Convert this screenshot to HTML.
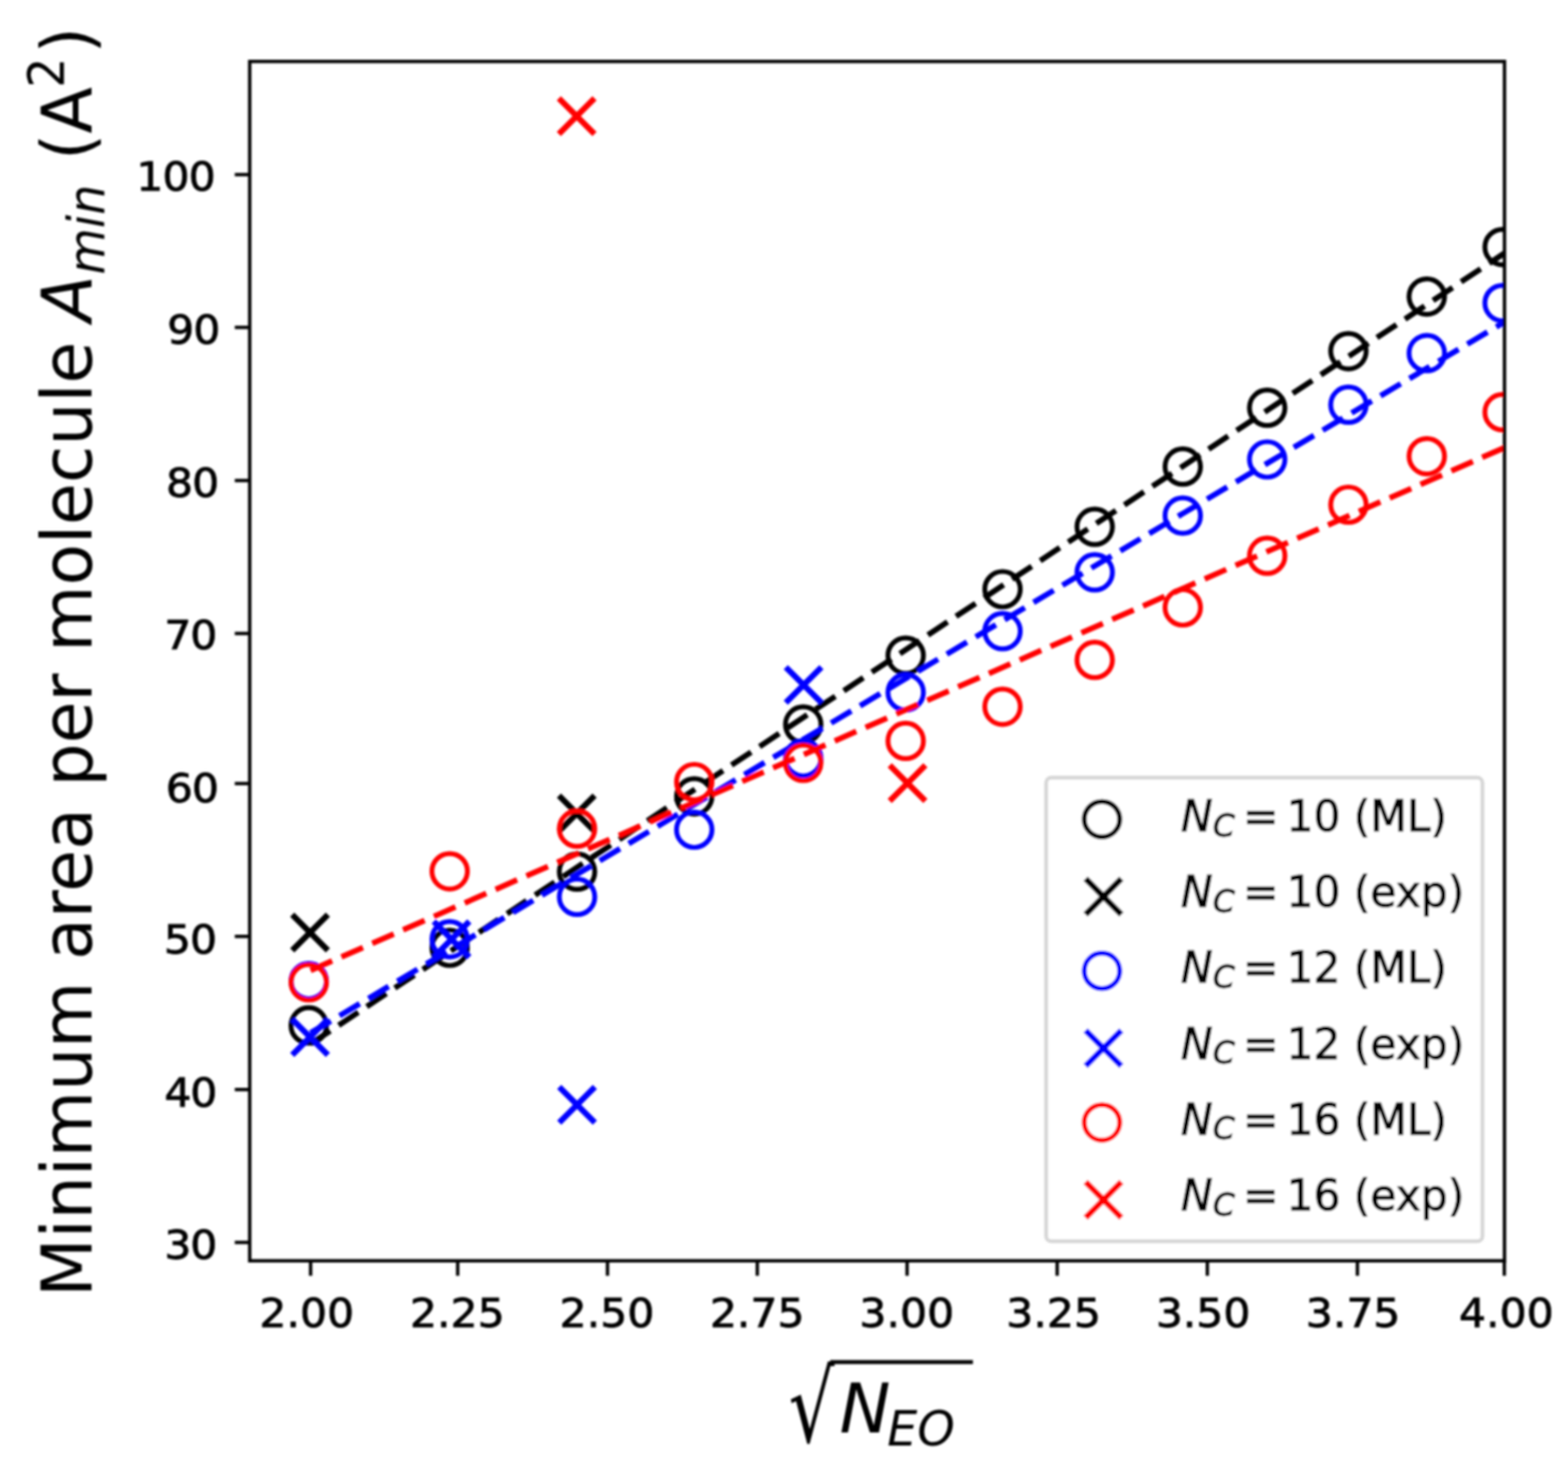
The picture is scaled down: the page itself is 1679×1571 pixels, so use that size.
<!DOCTYPE html>
<html><head><meta charset="utf-8"><title>Minimum area per molecule</title>
<style>html,body{margin:0;padding:0;background:#fff;}svg{display:block;}</style>
</head><body>
<svg width="1679" height="1571" viewBox="0 0 1679 1571"><rect x="0" y="0" width="1679" height="1571" fill="#ffffff"/><defs><filter id="soft" x="0" y="0" width="1679" height="1571" filterUnits="userSpaceOnUse"><feGaussianBlur stdDeviation="0.9"/></filter></defs><g filter="url(#soft)"><defs><clipPath id="ax"><rect x="267.4" y="65.8" width="1343.6" height="1284.4"/></clipPath></defs>
<g clip-path="url(#ax)" fill="none" stroke-width="5.2">
<circle cx="330.6" cy="1098.2" r="19.0" stroke="#000000"/>
<circle cx="481.5" cy="1015.0" r="19.0" stroke="#000000"/>
<circle cx="617.9" cy="933.4" r="19.0" stroke="#000000"/>
<circle cx="743.4" cy="852.8" r="19.0" stroke="#000000"/>
<circle cx="860.1" cy="775.9" r="19.0" stroke="#000000"/>
<circle cx="969.8" cy="702.1" r="19.0" stroke="#000000"/>
<circle cx="1073.5" cy="631.0" r="19.0" stroke="#000000"/>
<circle cx="1172.2" cy="564.2" r="19.0" stroke="#000000"/>
<circle cx="1266.5" cy="499.7" r="19.0" stroke="#000000"/>
<circle cx="1356.9" cy="436.7" r="19.0" stroke="#000000"/>
<circle cx="1443.9" cy="376.1" r="19.0" stroke="#000000"/>
<circle cx="1527.8" cy="317.6" r="19.0" stroke="#000000"/>
<circle cx="1609.0" cy="264.6" r="19.0" stroke="#000000"/>
<path d="M312.9,979.6L351.1,1017.8M312.9,1017.8L351.1,979.6" stroke="#000000" stroke-width="6.3"/>
<path d="M598.5,852.0L636.7,890.2M598.5,890.2L636.7,852.0" stroke="#000000" stroke-width="6.3"/>
<line x1="332.6" y1="1117.8" x2="1611.0" y2="271.1" stroke="#000000" stroke-width="6.0" stroke-dasharray="25.16 10.88"/>
<circle cx="330.6" cy="1050.5" r="19.0" stroke="#0000ff"/>
<circle cx="481.5" cy="1005.8" r="19.0" stroke="#0000ff"/>
<circle cx="617.9" cy="960.4" r="19.0" stroke="#0000ff"/>
<circle cx="743.4" cy="888.5" r="19.0" stroke="#0000ff"/>
<circle cx="860.1" cy="812.0" r="19.0" stroke="#0000ff"/>
<circle cx="969.8" cy="741.4" r="19.0" stroke="#0000ff"/>
<circle cx="1073.5" cy="675.9" r="19.0" stroke="#0000ff"/>
<circle cx="1172.2" cy="612.9" r="19.0" stroke="#0000ff"/>
<circle cx="1266.5" cy="552.2" r="19.0" stroke="#0000ff"/>
<circle cx="1356.9" cy="492.0" r="19.0" stroke="#0000ff"/>
<circle cx="1443.9" cy="433.4" r="19.0" stroke="#0000ff"/>
<circle cx="1527.8" cy="378.2" r="19.0" stroke="#0000ff"/>
<circle cx="1609.0" cy="324.6" r="19.0" stroke="#0000ff"/>
<path d="M312.9,1091.6L351.1,1129.8M312.9,1129.8L351.1,1091.6" stroke="#0000ff" stroke-width="6.3"/>
<path d="M464.4,986.7L502.6,1024.9M464.4,1024.9L502.6,986.7" stroke="#0000ff" stroke-width="6.3"/>
<path d="M598.8,1164.1L637.0,1202.3M598.8,1202.3L637.0,1164.1" stroke="#0000ff" stroke-width="6.3"/>
<path d="M841.4,714.4L879.6,752.6M841.4,752.6L879.6,714.4" stroke="#0000ff" stroke-width="6.3"/>
<line x1="332.6" y1="1106.2" x2="1611.0" y2="344.8" stroke="#0000ff" stroke-width="6.0" stroke-dasharray="25.16 10.88"/>
<circle cx="330.6" cy="1052.0" r="19.0" stroke="#ff0000"/>
<circle cx="481.5" cy="933.1" r="19.0" stroke="#ff0000"/>
<circle cx="617.9" cy="887.4" r="19.0" stroke="#ff0000"/>
<circle cx="743.4" cy="837.5" r="19.0" stroke="#ff0000"/>
<circle cx="860.1" cy="817.0" r="19.0" stroke="#ff0000"/>
<circle cx="969.8" cy="793.4" r="19.0" stroke="#ff0000"/>
<circle cx="1073.5" cy="756.8" r="19.0" stroke="#ff0000"/>
<circle cx="1172.2" cy="706.7" r="19.0" stroke="#ff0000"/>
<circle cx="1266.5" cy="650.5" r="19.0" stroke="#ff0000"/>
<circle cx="1356.9" cy="595.2" r="19.0" stroke="#ff0000"/>
<circle cx="1443.9" cy="540.5" r="19.0" stroke="#ff0000"/>
<circle cx="1527.8" cy="488.6" r="19.0" stroke="#ff0000"/>
<circle cx="1609.0" cy="441.4" r="19.0" stroke="#ff0000"/>
<path d="M598.4,105.2L636.6,143.4M598.4,143.4L636.6,105.2" stroke="#ff0000" stroke-width="6.3"/>
<path d="M952.7,819.6L990.9,857.8M952.7,857.8L990.9,819.6" stroke="#ff0000" stroke-width="6.3"/>
<line x1="332.6" y1="1039.2" x2="1611.0" y2="479.4" stroke="#ff0000" stroke-width="6.0" stroke-dasharray="25.16 10.88"/>
</g>
<g stroke="#000000" stroke-width="3.6"><line x1="332.6" y1="1350.2" x2="332.6" y2="1366.2"/><line x1="490.1" y1="1350.2" x2="490.1" y2="1366.2"/><line x1="650.5" y1="1350.2" x2="650.5" y2="1366.2"/><line x1="810.9" y1="1350.2" x2="810.9" y2="1366.2"/><line x1="971.3" y1="1350.2" x2="971.3" y2="1366.2"/><line x1="1132.0" y1="1350.2" x2="1132.0" y2="1366.2"/><line x1="1292.8" y1="1350.2" x2="1292.8" y2="1366.2"/><line x1="1453.5" y1="1350.2" x2="1453.5" y2="1366.2"/><line x1="1610.8" y1="1350.2" x2="1610.8" y2="1366.2"/><line x1="251.4" y1="1330.5" x2="267.4" y2="1330.5"/><line x1="251.4" y1="1166.8" x2="267.4" y2="1166.8"/><line x1="251.4" y1="1002.8" x2="267.4" y2="1002.8"/><line x1="251.4" y1="839.1" x2="267.4" y2="839.1"/><line x1="251.4" y1="678.4" x2="267.4" y2="678.4"/><line x1="251.4" y1="514.6" x2="267.4" y2="514.6"/><line x1="251.4" y1="350.6" x2="267.4" y2="350.6"/><line x1="251.4" y1="187.0" x2="267.4" y2="187.0"/></g>
<rect x="267.4" y="65.8" width="1343.6" height="1284.4" fill="none" stroke="#000000" stroke-width="3.6" stroke-linejoin="miter" stroke-linecap="square"/>
<g font-family="DejaVu Sans, Liberation Sans, sans-serif" font-size="45.5" fill="#000000" stroke="#000000" stroke-width="0.9"><text transform="translate(328.5,1421.3) scale(1,0.95)" text-anchor="middle">2.00</text><text transform="translate(489.7,1421.3) scale(1,0.95)" text-anchor="middle">2.25</text><text transform="translate(650.0,1421.3) scale(1,0.95)" text-anchor="middle">2.50</text><text transform="translate(810.8,1421.3) scale(1,0.95)" text-anchor="middle">2.75</text><text transform="translate(971.0,1421.3) scale(1,0.95)" text-anchor="middle">3.00</text><text transform="translate(1128.2,1421.3) scale(1,0.95)" text-anchor="middle">3.25</text><text transform="translate(1288.3,1421.3) scale(1,0.95)" text-anchor="middle">3.50</text><text transform="translate(1448.9,1421.3) scale(1,0.95)" text-anchor="middle">3.75</text><text transform="translate(1613.0,1421.3) scale(1,0.95)" text-anchor="middle">4.00</text><text transform="translate(231.8,1348.1) scale(1,0.95)" text-anchor="end" letter-spacing="-1.0">30</text><text transform="translate(231.8,1185.1) scale(1,0.95)" text-anchor="end" letter-spacing="-1.0">40</text><text transform="translate(231.5,1020.8) scale(1,0.95)" text-anchor="end" letter-spacing="-1.0">50</text><text transform="translate(233.5,859.1) scale(1,0.95)" text-anchor="end" letter-spacing="-1.0">60</text><text transform="translate(231.8,695.3) scale(1,0.95)" text-anchor="end" letter-spacing="-1.0">70</text><text transform="translate(233.6,531.5) scale(1,0.95)" text-anchor="end" letter-spacing="-1.0">80</text><text transform="translate(235.0,367.9) scale(1,0.95)" text-anchor="end" letter-spacing="-1.0">90</text><text transform="translate(229.9,203.9) scale(1,0.95)" text-anchor="end" letter-spacing="-1.0">100</text></g>
<rect x="1120.2" y="832.8" width="467.2" height="496.5" rx="5.5" ry="5.5" fill="#ffffff" fill-opacity="0.8" stroke="#d6d6d6" stroke-width="4.0"/>
<circle cx="1180.0" cy="877.3" r="19.0" fill="none" stroke="#000000" stroke-width="5.2"/><text y="889.9" font-family="DejaVu Sans, Liberation Sans, sans-serif" font-size="45.5" stroke="#000000" stroke-width="0.9"><tspan x="1264.5" font-style="italic">N</tspan><tspan font-style="italic" font-size="33.67" x="1298.8" dy="5.6">C</tspan><tspan dy="-5.6" x="1331.0">=</tspan><tspan x="1377.5">10</tspan><tspan x="1449.5">(ML)</tspan></text><path d="M1162.5,941.0L1200.7,979.2M1162.5,979.2L1200.7,941.0" fill="none" stroke="#000000" stroke-width="6.3"/><text y="971.1" font-family="DejaVu Sans, Liberation Sans, sans-serif" font-size="45.5" stroke="#000000" stroke-width="0.9"><tspan x="1264.5" font-style="italic">N</tspan><tspan font-style="italic" font-size="33.67" x="1298.8" dy="5.6">C</tspan><tspan dy="-5.6" x="1331.0">=</tspan><tspan x="1377.5">10</tspan><tspan x="1449.5">(exp)</tspan></text><circle cx="1180.0" cy="1039.7" r="19.0" fill="none" stroke="#0000ff" stroke-width="5.2"/><text y="1052.3" font-family="DejaVu Sans, Liberation Sans, sans-serif" font-size="45.5" stroke="#000000" stroke-width="0.9"><tspan x="1264.5" font-style="italic">N</tspan><tspan font-style="italic" font-size="33.67" x="1298.8" dy="5.6">C</tspan><tspan dy="-5.6" x="1331.0">=</tspan><tspan x="1377.5">12</tspan><tspan x="1449.5">(ML)</tspan></text><path d="M1162.5,1103.4L1200.7,1141.6M1162.5,1141.6L1200.7,1103.4" fill="none" stroke="#0000ff" stroke-width="6.3"/><text y="1133.5" font-family="DejaVu Sans, Liberation Sans, sans-serif" font-size="45.5" stroke="#000000" stroke-width="0.9"><tspan x="1264.5" font-style="italic">N</tspan><tspan font-style="italic" font-size="33.67" x="1298.8" dy="5.6">C</tspan><tspan dy="-5.6" x="1331.0">=</tspan><tspan x="1377.5">12</tspan><tspan x="1449.5">(exp)</tspan></text><circle cx="1180.0" cy="1202.1" r="19.0" fill="none" stroke="#ff0000" stroke-width="5.2"/><text y="1214.7" font-family="DejaVu Sans, Liberation Sans, sans-serif" font-size="45.5" stroke="#000000" stroke-width="0.9"><tspan x="1264.5" font-style="italic">N</tspan><tspan font-style="italic" font-size="33.67" x="1298.8" dy="5.6">C</tspan><tspan dy="-5.6" x="1331.0">=</tspan><tspan x="1377.5">16</tspan><tspan x="1449.5">(ML)</tspan></text><path d="M1162.5,1265.8L1200.7,1304.0M1162.5,1304.0L1200.7,1265.8" fill="none" stroke="#ff0000" stroke-width="6.3"/><text y="1295.9" font-family="DejaVu Sans, Liberation Sans, sans-serif" font-size="45.5" stroke="#000000" stroke-width="0.9"><tspan x="1264.5" font-style="italic">N</tspan><tspan font-style="italic" font-size="33.67" x="1298.8" dy="5.6">C</tspan><tspan dy="-5.6" x="1331.0">=</tspan><tspan x="1377.5">16</tspan><tspan x="1449.5">(exp)</tspan></text>
<text transform="translate(844.5,1543.9) scale(1.05,1.447)" font-family="DejaVu Sans, Liberation Sans, sans-serif" font-size="73.3">&#8730;</text><path d="M889.0,1458.6 L1041.8,1458.6" fill="none" stroke="#000000" stroke-width="4.4"/><text y="1534.3" font-family="DejaVu Sans, Liberation Sans, sans-serif" font-size="72.9" font-style="italic"><tspan x="898.9">N</tspan><tspan x="950.0" font-size="51.03" dy="13.6">EO</tspan></text>
<text transform="translate(97.6,1388.9) rotate(-90) scale(1,1.035)" x="0.0" y="0.0" font-family="DejaVu Sans, Liberation Sans, sans-serif" font-size="72.90">Minimum area per molecule</text><text transform="translate(97.6,1388.9) rotate(-90) scale(1,1.035)" x="1044.5" y="0.0" font-family="DejaVu Sans, Liberation Sans, sans-serif" font-size="72.90" font-style="italic">A</text><text transform="translate(97.6,1388.9) rotate(-90) scale(1,1.035)" x="1095.0" y="12.6" font-family="DejaVu Sans, Liberation Sans, sans-serif" font-size="51.03" font-style="italic">min</text><text transform="translate(97.6,1388.9) rotate(-90) scale(1,1.035)" x="1217.5" y="0.0" font-family="DejaVu Sans, Liberation Sans, sans-serif" font-size="72.90">(A</text><text transform="translate(97.6,1388.9) rotate(-90) scale(1,1.035)" x="1295.0" y="-29.0" font-family="DejaVu Sans, Liberation Sans, sans-serif" font-size="51.03">2</text><text transform="translate(97.6,1388.9) rotate(-90) scale(1,1.035)" x="1331.6" y="0.0" font-family="DejaVu Sans, Liberation Sans, sans-serif" font-size="72.90">)</text></g></svg>
</body></html>
